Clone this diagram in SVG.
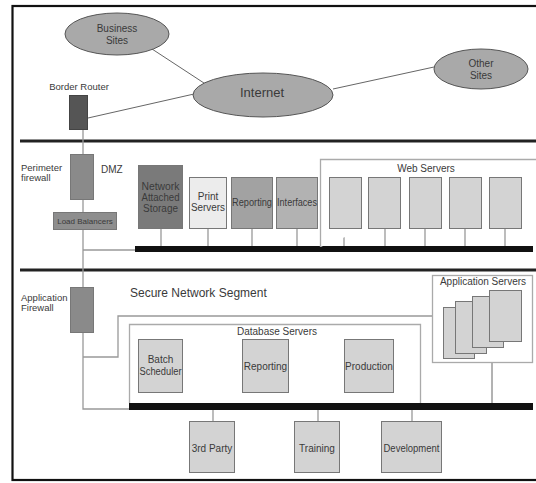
<svg xmlns="http://www.w3.org/2000/svg" width="536" height="483" viewBox="0 0 536 483">
<style>
text{font-family:"Liberation Sans",Arial,sans-serif;fill:#3a3a3a;font-size:10px}
.c{text-anchor:middle}
.ln{stroke:#999;stroke-width:1.3;fill:none}
.lnd{stroke:#666;stroke-width:1;fill:none}
.bus{fill:#111}
.sep{stroke:#222;stroke-width:3}
.ell{fill:#a9a9a9;stroke:#555;stroke-width:1}
.box{stroke:#777;stroke-width:1}
.lt{fill:#d3d3d3}
.cont{fill:#fff;stroke:#aaa;stroke-width:1.3}
</style>
<rect width="536" height="483" fill="#fff"/>
<rect x="12.5" y="6" width="530" height="474" fill="none" stroke="#111" stroke-width="2.2"/>
<line class="sep" x1="20" y1="141" x2="536" y2="141"/>
<line class="sep" x1="20" y1="270" x2="536" y2="270"/>

<g id="connectors">
<line class="lnd" x1="152" y1="49" x2="207" y2="85"/>
<line class="lnd" x1="333" y1="89" x2="434" y2="67"/>
<line class="lnd" x1="88" y1="118" x2="194" y2="94"/>
<polyline class="ln" points="83,130 83,409 129,409"/>
<line class="ln" x1="83" y1="250" x2="135" y2="250"/>
<polyline class="ln" points="83,357 118,357 118,316 432,316"/>
<line class="ln" x1="161" y1="229" x2="161" y2="247"/>
<line class="ln" x1="208" y1="229" x2="208" y2="247"/>
<line class="ln" x1="252" y1="229" x2="252" y2="247"/>
<line class="ln" x1="297" y1="229" x2="297" y2="247"/>
<line class="ln" x1="344" y1="229" x2="344" y2="247"/>
<line class="ln" x1="385" y1="229" x2="385" y2="247"/>
<line class="ln" x1="425" y1="229" x2="425" y2="247"/>
<line class="ln" x1="465" y1="229" x2="465" y2="247"/>
<line class="ln" x1="505" y1="229" x2="505" y2="247"/>
<line class="ln" x1="161" y1="393" x2="161" y2="404"/>
<line class="ln" x1="266" y1="393" x2="266" y2="404"/>
<line class="ln" x1="369" y1="393" x2="369" y2="404"/>
<line class="lnd" x1="492" y1="363" x2="492" y2="404"/>
<line class="ln" x1="213" y1="409" x2="213" y2="422"/>
<line class="ln" x1="318" y1="409" x2="318" y2="422"/>
<line class="ln" x1="412" y1="409" x2="412" y2="422"/>
<rect class="bus" x="135" y="246" width="398" height="6"/>
<rect class="bus" x="129" y="403" width="404" height="7"/>
</g>

<g id="business-sites"><ellipse class="ell" cx="117" cy="34" rx="52" ry="21"/><text class="c" x="117" y="32">Business</text><text class="c" x="117" y="44">Sites</text></g>
<g id="internet"><ellipse class="ell" cx="263" cy="95" rx="70" ry="22"/><text class="c" x="262" y="97" style="font-size:13px">Internet</text></g>
<g id="other-sites"><ellipse class="ell" cx="481" cy="69" rx="47" ry="20"/><text class="c" x="481" y="67">Other</text><text class="c" x="481" y="79">Sites</text></g>

<g id="border-router"><text class="c" x="79" y="90" style="font-size:9.5px">Border Router</text><rect x="69.5" y="95.5" width="18" height="34" fill="#555" stroke="#444"/></g>

<g id="perimeter-firewall"><text x="21" y="171" style="font-size:9.5px">Perimeter</text><text x="21" y="181" style="font-size:9.5px">firewall</text><rect class="box" x="70.5" y="154.5" width="23" height="45" fill="#8a8a8a"/><text x="101" y="173">DMZ</text></g>
<g id="load-balancers"><rect class="box" x="53.5" y="212.5" width="63" height="17" fill="#8e8e8e"/><text class="c" x="85" y="224" style="font-size:8px">Load Balancers</text></g>

<g id="nas"><rect class="box" x="138.5" y="165.5" width="44" height="63" fill="#7a7a7a"/><text class="c" x="160.5" y="190" textLength="38" lengthAdjust="spacingAndGlyphs">Network</text><text class="c" x="160.5" y="201" textLength="38" lengthAdjust="spacingAndGlyphs">Attached</text><text class="c" x="160.5" y="212" textLength="35" lengthAdjust="spacingAndGlyphs">Storage</text></g>
<g id="print-servers"><rect class="box" x="189.5" y="177.5" width="37" height="51" fill="#ececec"/><text class="c" x="208" y="200">Print</text><text class="c" x="208" y="211" textLength="34" lengthAdjust="spacingAndGlyphs">Servers</text></g>
<g id="reporting-dmz"><rect class="box" x="231.5" y="177.5" width="41" height="51" fill="#a2a2a2"/><text class="c" x="252" y="206" textLength="40" lengthAdjust="spacingAndGlyphs">Reporting</text></g>
<g id="interfaces"><rect class="box" x="276.5" y="177.5" width="41" height="51" fill="#b2b2b2"/><text class="c" x="297" y="206" textLength="40" lengthAdjust="spacingAndGlyphs">Interfaces</text></g>

<g id="web-servers">
<polyline class="cont" points="320.5,247 320.5,159.5 536,159.5"/>
<text class="c" x="426" y="172">Web Servers</text>
<rect class="box lt" x="329.5" y="177.5" width="32" height="51"/>
<rect class="box lt" x="368.5" y="177.5" width="32" height="51"/>
<rect class="box lt" x="409.5" y="177.5" width="32" height="51"/>
<rect class="box lt" x="449.5" y="177.5" width="32" height="51"/>
<rect class="box lt" x="489.5" y="177.5" width="32" height="51"/>
</g>

<g id="application-firewall"><text x="21" y="301" style="font-size:9.5px">Application</text><text x="21" y="311" style="font-size:9.5px">Firewall</text><rect class="box" x="70.5" y="287.5" width="23" height="45" fill="#8a8a8a"/></g>
<text x="130" y="297" style="font-size:12px">Secure Network Segment</text>

<g id="database-servers">
<polyline class="cont" points="129.5,403 129.5,324.5 420.5,324.5 420.5,403"/>
<text class="c" x="277" y="335">Database Servers</text>
<g id="batch-scheduler"><rect class="box lt" x="138.5" y="339.5" width="44" height="53"/><text class="c" x="160.5" y="363">Batch</text><text class="c" x="160.5" y="375" textLength="42" lengthAdjust="spacingAndGlyphs">Scheduler</text></g>
<g id="reporting-db"><rect class="box lt" x="242.5" y="339.5" width="46" height="53"/><text class="c" x="265.5" y="370">Reporting</text></g>
<g id="production"><rect class="box lt" x="344.5" y="339.5" width="49" height="53"/><text class="c" x="369" y="370">Production</text></g>
</g>

<g id="application-servers">
<rect class="cont" x="432.5" y="275.5" width="100" height="87"/>
<text class="c" x="483" y="285">Application Servers</text>
<rect class="box lt" x="443.5" y="307.5" width="31" height="51"/>
<rect class="box lt" x="455.5" y="301.5" width="31" height="52"/>
<rect class="box lt" x="472.5" y="296.5" width="31" height="51"/>
<rect class="box lt" x="489.5" y="290.5" width="32" height="51"/>
</g>

<g id="third-party"><rect class="box lt" x="189.5" y="421.5" width="45" height="51"/><text class="c" x="212" y="452">3rd Party</text></g>
<g id="training"><rect class="box lt" x="294.5" y="421.5" width="45" height="51"/><text class="c" x="317" y="452">Training</text></g>
<g id="development"><rect class="box lt" x="381.5" y="421.5" width="60" height="51"/><text class="c" x="411.5" y="452" textLength="56" lengthAdjust="spacingAndGlyphs">Development</text></g>
</svg>
